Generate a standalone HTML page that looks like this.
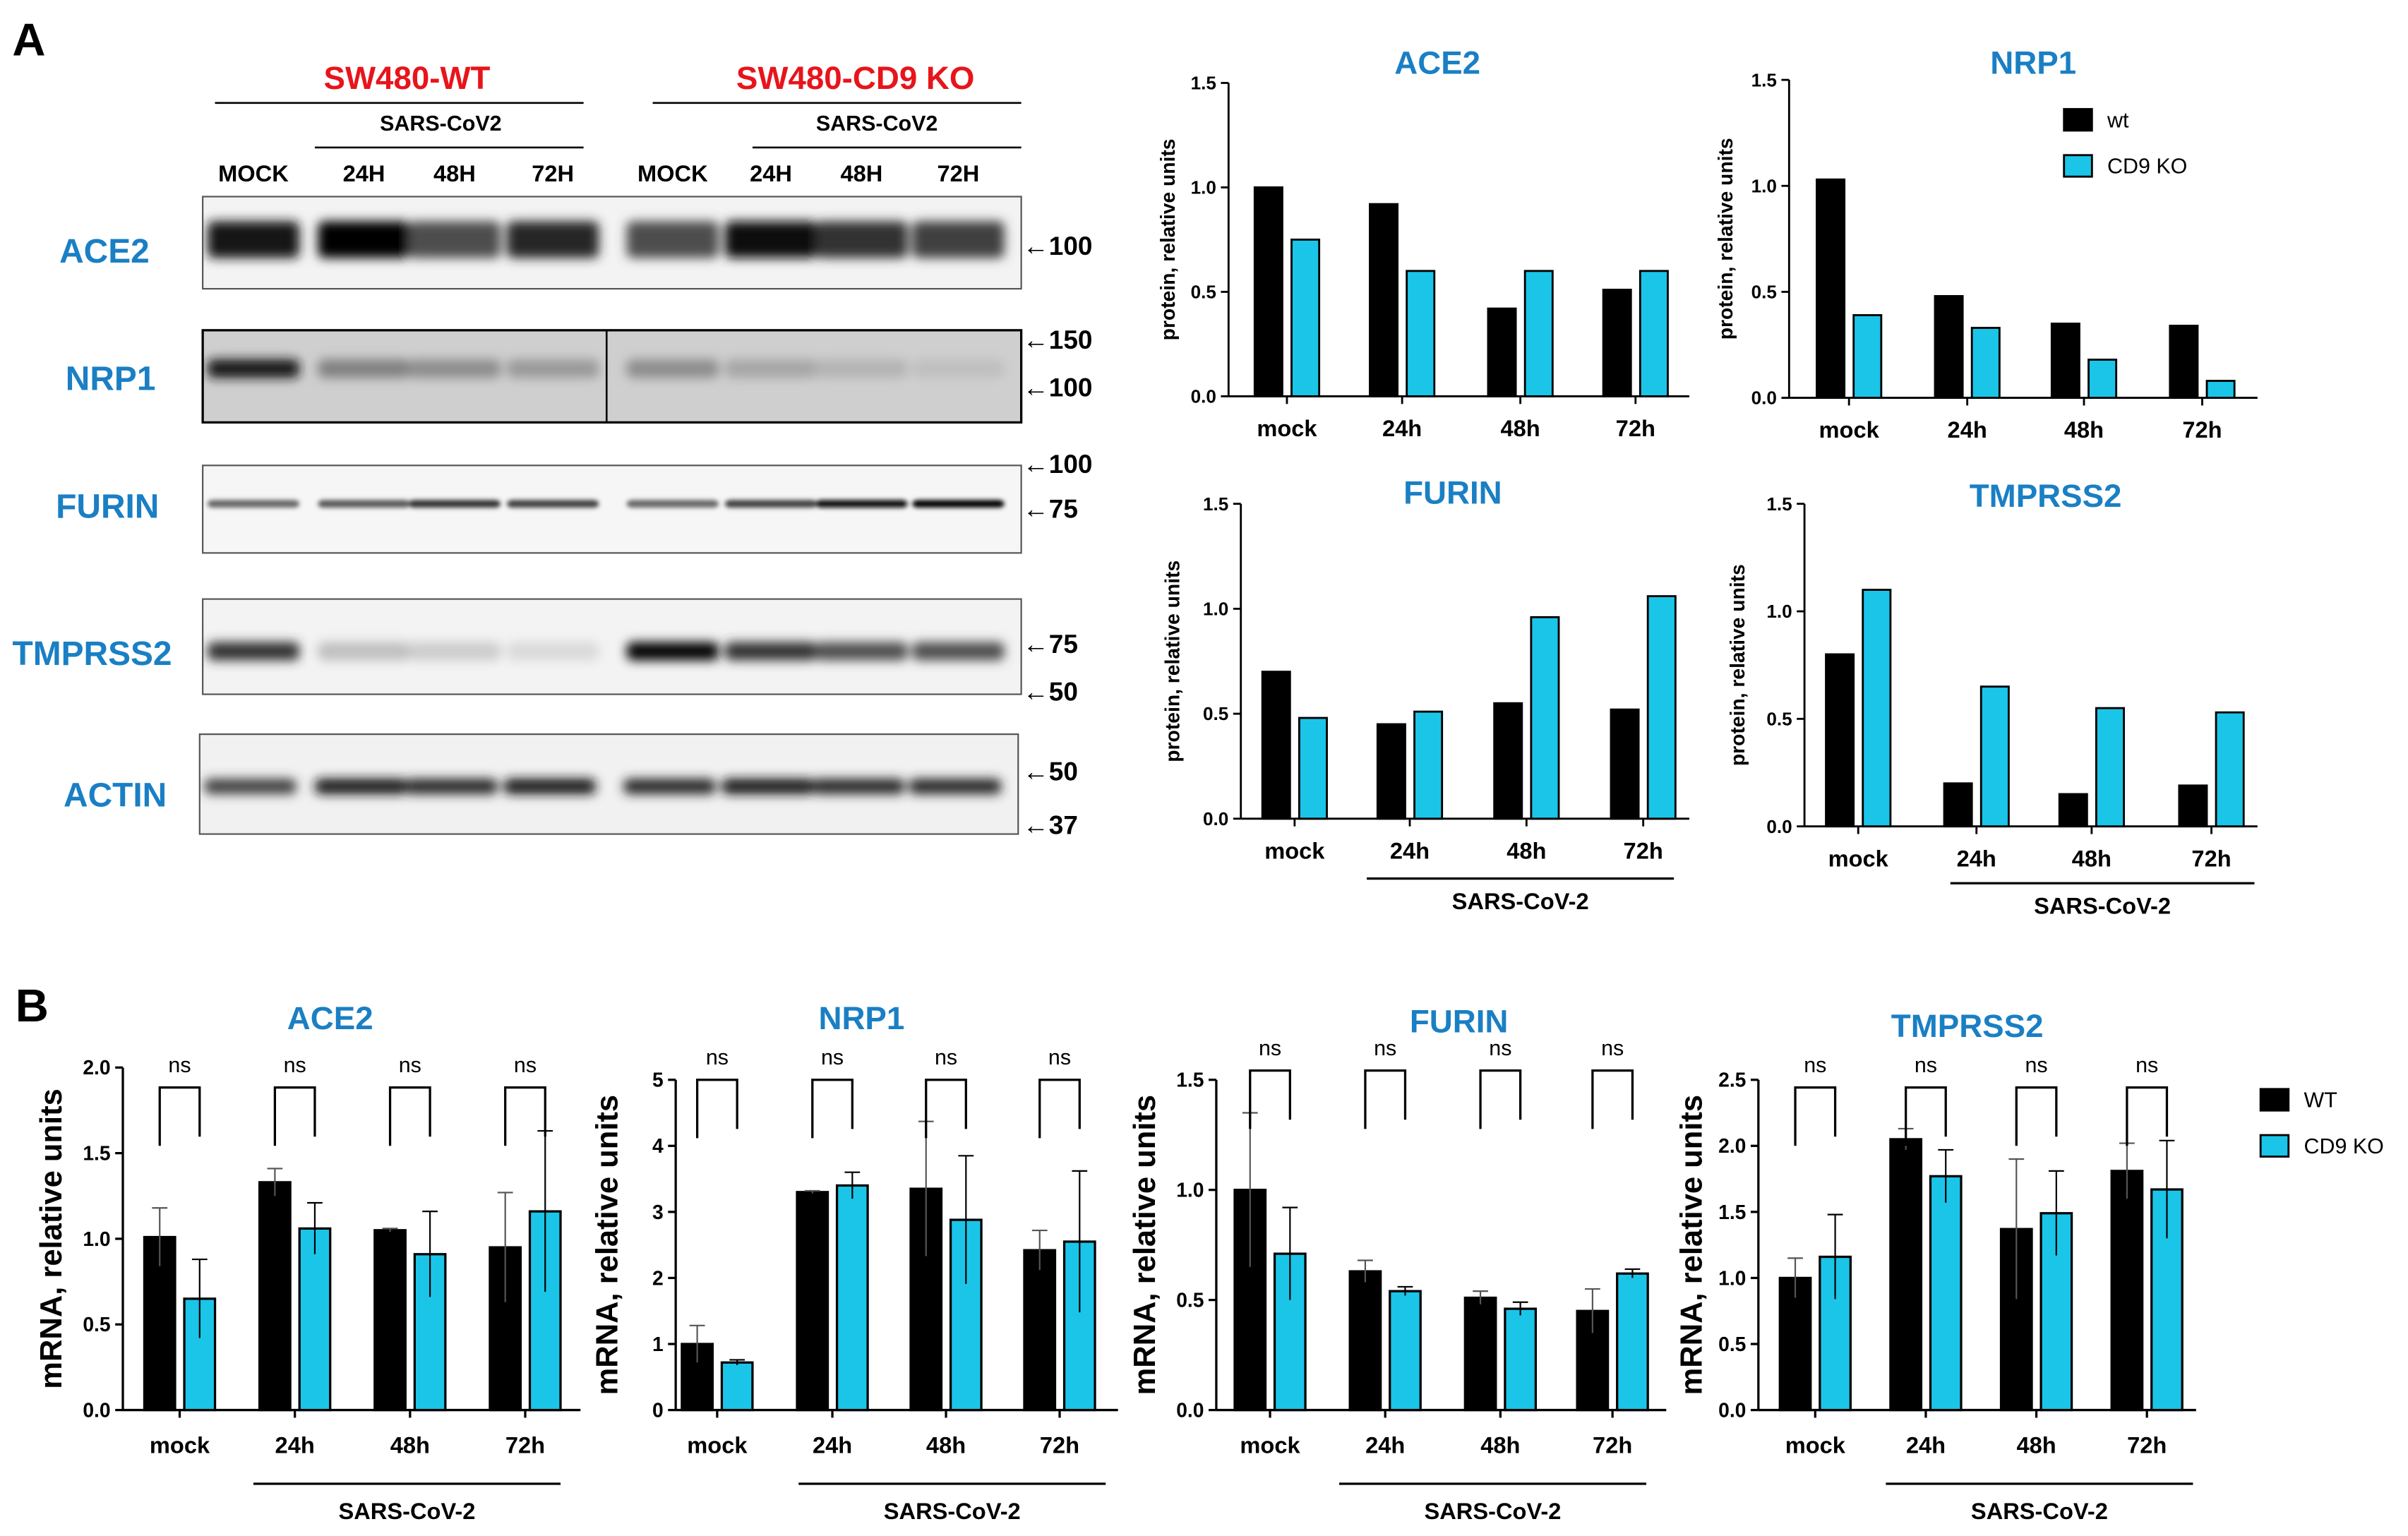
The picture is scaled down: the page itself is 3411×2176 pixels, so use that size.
<!DOCTYPE html>
<html><head><meta charset="utf-8">
<style>
html,body{margin:0;padding:0;background:#fff;}
svg{display:block;}
text{font-family:"Liberation Sans",Arial,sans-serif;}
</style></head>
<body>
<svg id="fig" width="3411" height="2176" viewBox="0 0 1568 1000" preserveAspectRatio="none" xmlns="http://www.w3.org/2000/svg">
<defs>
<filter id="blur" x="-50%" y="-100%" width="200%" height="300%"><feGaussianBlur stdDeviation="3.5"/></filter>
<filter id="blur2" x="-50%" y="-100%" width="200%" height="300%"><feGaussianBlur stdDeviation="1.5"/></filter>
</defs>
<g id="blots"></g>
<g id="charts"></g>
</svg>
<script>
const NS='http://www.w3.org/2000/svg';
const root=document.getElementById('fig');
function el(tag,attrs,parent,txt){const e=document.createElementNS(NS,tag);for(const k in attrs)e.setAttribute(k,attrs[k]);if(txt!==undefined)e.textContent=txt;(parent||root).appendChild(e);return e;}
const BLUE='#1a7fc4', CYAN='#1bc5e8';

// ---------- Panel A data ----------
const aCats=['mock','24h','48h','72h'];
const aceWt=[1.0,0.92,0.42,0.51], aceKo=[0.75,0.6,0.6,0.6];
const nrpWt=[1.03,0.48,0.35,0.34], nrpKo=[0.39,0.33,0.18,0.08];
const furWt=[0.7,0.45,0.55,0.52], furKo=[0.48,0.51,0.96,1.06];
const tmpWt=[0.8,0.2,0.15,0.19], tmpKo=[1.1,0.65,0.55,0.53];
const aTicks=[0,0.5,1.0,1.5];
const aTickLabels=['0.0','0.5','1.0','1.5'];

// ---------- Panel B data ----------
const bCats=['mock','24h','48h','72h'];
const bAceWt=[1.01,1.33,1.05,0.95], bAceWtErr=[0.17,0.08,0.01,0.32];
const bAceKo=[0.65,1.06,0.91,1.16], bAceKoErr=[0.23,0.15,0.25,0.47];
const bNrpWt=[1.0,3.3,3.35,2.42], bNrpWtErr=[0.28,0.02,1.02,0.3];
const bNrpKo=[0.72,3.4,2.88,2.55], bNrpKoErr=[0.04,0.2,0.97,1.07];
const bFurWt=[1.0,0.63,0.51,0.45], bFurWtErr=[0.35,0.05,0.03,0.1];
const bFurKo=[0.71,0.54,0.46,0.62], bFurKoErr=[0.21,0.02,0.03,0.02];
const bTmpWt=[1.0,2.05,1.37,1.81], bTmpWtErr=[0.15,0.08,0.53,0.21];
const bTmpKo=[1.16,1.77,1.49,1.67], bTmpKoErr=[0.32,0.2,0.32,0.37];
const bAceTicks=[0,0.5,1.0,1.5,2.0], bAceLabels=['0.0','0.5','1.0','1.5','2.0'];
const bNrpTicks=[0,1,2,3,4,5], bNrpLabels=['0','1','2','3','4','5'];
const bFurTicks=[0,0.5,1.0,1.5], bFurLabels=['0.0','0.5','1.0','1.5'];
const bTmpTicks=[0,0.5,1.0,1.5,2.0,2.5], bTmpLabels=['0.0','0.5','1.0','1.5','2.0','2.5'];

// ---------- Western blots ----------
const B=document.getElementById('blots');
let t;
t=el('text',{x:8,y:36,'font-size':30,'font-weight':'bold'},B,'A');
t=el('text',{x:265,y:58,'font-size':21,'font-weight':'bold',fill:'#e8141b','text-anchor':'middle'},B,'SW480-WT');
t=el('text',{x:557,y:58,'font-size':21,'font-weight':'bold',fill:'#e8141b','text-anchor':'middle'},B,'SW480-CD9 KO');
el('line',{x1:140,y1:67,x2:380,y2:67,stroke:'#000','stroke-width':1.2},B);
el('line',{x1:425,y1:67,x2:665,y2:67,stroke:'#000','stroke-width':1.2},B);
t=el('text',{x:287,y:85,'font-size':14,'font-weight':'bold','text-anchor':'middle'},B,'SARS-CoV2');
t=el('text',{x:571,y:85,'font-size':14,'font-weight':'bold','text-anchor':'middle'},B,'SARS-CoV2');
el('line',{x1:205,y1:96,x2:380,y2:96,stroke:'#000','stroke-width':1.2},B);
el('line',{x1:490,y1:96,x2:665,y2:96,stroke:'#000','stroke-width':1.2},B);
const lanes=[165,237,296,360,438,502,561,624];
const laneLabels=['MOCK','24H','48H','72H','MOCK','24H','48H','72H'];
lanes.forEach((x,i)=>{t=el('text',{x:x,y:118,'font-size':15,'font-weight':'bold','text-anchor':'middle'},B,laneLabels[i]);});

const blots=[
 {name:'ACE2',lx:68,ly:171,x:132,y:128,w:533,h:60,bg:'#f3f3f3',by:156,bh:24,blur:'blur',ints:[0.9,1,0.7,0.85,0.7,0.97,0.8,0.75]},
 {name:'NRP1',lx:72,ly:254,x:132,y:215,w:533,h:60,bg:'#cfcfcf',by:240,bh:12,blur:'blur',ints:[0.9,0.5,0.45,0.4,0.45,0.35,0.3,0.25]},
 {name:'FURIN',lx:70,ly:337,x:132,y:303,w:533,h:57,bg:'#f6f6f6',by:328,bh:5,blur:'blur2',ints:[0.6,0.65,0.8,0.75,0.6,0.75,0.95,1]},
 {name:'TMPRSS2',lx:60,ly:433,x:132,y:390,w:533,h:62,bg:'#f3f3f3',by:424,bh:12,blur:'blur',ints:[0.8,0.25,0.2,0.15,1,0.8,0.7,0.7]},
 {name:'ACTIN',lx:75,ly:525,x:130,y:478,w:533,h:65,bg:'#f1f1f1',by:512,bh:10,blur:'blur',ints:[0.75,0.9,0.85,0.9,0.85,0.9,0.85,0.85]}
];
blots.forEach(b=>{
 const g=el('g',{},B);
 el('rect',{x:b.x,y:b.y,width:b.w,height:b.h,fill:b.bg},g);
 const cl='c'+b.name;const cp=el('clipPath',{id:cl},g);el('rect',{x:b.x,y:b.y,width:b.w,height:b.h},cp);
 const bg=el('g',{'clip-path':'url(#'+cl+')',filter:'url(#'+b.blur+')'},g);
 b.ints.forEach((v,i)=>{const x=lanes[i]+(b.x-132);const c=Math.round(255*(1-v));
  el('rect',{x:x-30,y:b.by-b.bh/2,width:60,height:b.bh,rx:4,fill:`rgb(${c},${c},${c})`},bg);});
 el('rect',{x:b.x,y:b.y,width:b.w,height:b.h,fill:'none',stroke:b.name==='NRP1'?'#000':'#555','stroke-width':b.name==='NRP1'?1.5:1},g);
 if(b.name==='NRP1')el('line',{x1:395,y1:b.y,x2:395,y2:b.y+b.h,stroke:'#000','stroke-width':1.2},g);
 const tl=el('text',{x:b.lx,y:b.ly,'font-size':22,'font-weight':'bold',fill:BLUE,'text-anchor':'middle'},B,b.name);
 
});
const markers=[['100',160],['150',221],['100',252],['100',302],['75',331],['75',419],['50',450],['50',502],['37',537]];
markers.forEach(m=>{t=el('text',{x:666,y:m[1]+6,'font-size':17,'font-weight':'bold'},B,'\u2190'+m[0]);});

// ---------- chart builder ----------
const C=document.getElementById('charts');
function chart(o){
 const g=el('g',{},C);
 const ymax=o.ticks[o.ticks.length-1];
 const ys=v=>o.y0-(o.y0-o.ytop)*v/ymax;
 el('line',{x1:o.ax,y1:o.ytop,x2:o.ax,y2:o.y0,stroke:'#000','stroke-width':o.lw},g);
 el('line',{x1:o.ax,y1:o.y0,x2:o.xend,y2:o.y0,stroke:'#000','stroke-width':o.lw},g);
 o.ticks.forEach((v,i)=>{el('line',{x1:o.ax-5,y1:ys(v),x2:o.ax,y2:ys(v),stroke:'#000','stroke-width':o.lw},g);
  const tt=el('text',{x:o.ax-8,y:ys(v)+o.tfs*0.35,'font-size':o.tfs,'font-weight':'bold','text-anchor':'end'},g,o.tickLabels[i]);
  });
 o.cats.forEach((c,i)=>{const cx=o.cx[i];
  el('line',{x1:cx,y1:o.y0,x2:cx,y2:o.y0+5,stroke:'#000','stroke-width':o.lw},g);
  const ct=el('text',{x:cx,y:o.y0+o.cfs+o.cgap,'font-size':o.cfs,'font-weight':'bold','text-anchor':'middle'},g,c);
  
  [[o.wt,o.wtErr,'#000',-o.off],[o.ko,o.koErr,CYAN,o.off]].forEach((s,k)=>{
   const v=s[0][i];const bx=cx+s[3]-o.bw/2;
   const r=el('rect',{x:bx,y:ys(v),width:o.bw,height:o.y0-ys(v),fill:s[2],stroke:'#000','stroke-width':o.lw},g);
   
   if(s[1]){const e=s[1][i];const mx=cx+s[3];
    el('line',{x1:mx,y1:ys(v-e),x2:mx,y2:ys(v+e),stroke:k?'#000':'#555','stroke-width':1},g);
    el('line',{x1:mx-5,y1:ys(v+e),x2:mx+5,y2:ys(v+e),stroke:k?'#000':'#555','stroke-width':1},g);}
  });
  if(o.ns){const l=cx-o.off,rr=cx+o.off;
   const p=el('path',{d:`M${l},${o.nsY+38} V${o.nsY} H${rr} V${o.nsY+32}`,fill:'none',stroke:'#000','stroke-width':1.5},g);
   
   const nt=el('text',{x:cx,y:o.nsY-10,'font-size':14,'text-anchor':'middle'},g,'ns');}
 });
 const tt=el('text',{x:o.tx,y:o.ty,'font-size':o.tsz,'font-weight':'bold',fill:BLUE,'text-anchor':'middle'},g,o.title);
 
 const yl=el('text',{x:0,y:0,'font-size':o.ylfs,'font-weight':'bold','text-anchor':'middle',transform:`translate(${o.ylx},${(o.y0+o.ytop)/2}) rotate(-90)`},g,o.ylabel);
 
 if(o.sars){el('line',{x1:o.sars[0],y1:o.sars[2],x2:o.sars[1],y2:o.sars[2],stroke:'#000','stroke-width':1.5},g);
  const st=el('text',{x:(o.sars[0]+o.sars[1])/2,y:o.sars[2]+o.sgap,'font-size':o.cfs,'font-weight':'bold','text-anchor':'middle'},g,'SARS-CoV-2');
  }
}
const aBase={cats:aCats,ticks:aTicks,tickLabels:aTickLabels,lw:1.3,tfs:12,cfs:15,cgap:11,sgap:20,bw:18,off:12,tsz:21,ylfs:13,ylabel:'protein, relative units'};
chart(Object.assign({},aBase,{id:'a-ace2',title:'ACE2',tx:936,ty:48,ax:800,y0:258,ytop:54,xend:1100,cx:[838,913,990,1065],wt:aceWt,ko:aceKo,ylx:765}));
chart(Object.assign({},aBase,{id:'a-nrp1',title:'NRP1',tx:1324,ty:48,ax:1165,y0:259,ytop:52,xend:1470,cx:[1204,1281,1357,1434],wt:nrpWt,ko:nrpKo,ylx:1128}));
chart(Object.assign({},aBase,{id:'a-furin',title:'FURIN',tx:946,ty:328,ax:808,y0:533,ytop:328,xend:1100,cx:[843,918,994,1070],wt:furWt,ko:furKo,ylx:768,sars:[890,1090,572]}));
chart(Object.assign({},aBase,{id:'a-tmprss2',title:'TMPRSS2',tx:1332,ty:330,ax:1175,y0:538,ytop:328,xend:1470,cx:[1210,1287,1362,1440],wt:tmpWt,ko:tmpKo,ylx:1136,sars:[1270,1468,575]}));

const bBase={cats:bCats,lw:1.5,tfs:13,cfs:15,cgap:13,sgap:23,bw:20,off:13,tsz:21,ylfs:20,ylabel:'mRNA, relative units',ns:true,y0:918};
chart(Object.assign({},bBase,{id:'b-ace2',title:'ACE2',tx:215,ty:670,ax:80,ytop:695,xend:378,cx:[117,192,267,342],ticks:bAceTicks,tickLabels:bAceLabels,wt:bAceWt,wtErr:bAceWtErr,ko:bAceKo,koErr:bAceKoErr,ylx:40,nsY:708,sars:[165,365,966]}));
chart(Object.assign({},bBase,{id:'b-nrp1',title:'NRP1',tx:561,ty:670,ax:440,ytop:703,xend:728,cx:[467,542,616,690],ticks:bNrpTicks,tickLabels:bNrpLabels,wt:bNrpWt,wtErr:bNrpWtErr,ko:bNrpKo,koErr:bNrpKoErr,ylx:402,nsY:703,sars:[520,720,966]}));
chart(Object.assign({},bBase,{id:'b-furin',title:'FURIN',tx:950,ty:672,ax:792,ytop:703,xend:1085,cx:[827,902,977,1050],ticks:bFurTicks,tickLabels:bFurLabels,wt:bFurWt,wtErr:bFurWtErr,ko:bFurKo,koErr:bFurKoErr,ylx:752,nsY:697,sars:[872,1072,966]}));
chart(Object.assign({},bBase,{id:'b-tmprss2',title:'TMPRSS2',tx:1281,ty:675,ax:1145,ytop:703,xend:1430,cx:[1182,1254,1326,1398],ticks:bTmpTicks,tickLabels:bTmpLabels,wt:bTmpWt,wtErr:bTmpWtErr,ko:bTmpKo,koErr:bTmpKoErr,ylx:1108,nsY:708,sars:[1228,1428,966]}));

t=el('text',{x:10,y:665,'font-size':30,'font-weight':'bold'},C,'B');
function legend(x,y,labels,fs,sz,gap,name){const g=el('g',{},C);
 labels.forEach((l,i)=>{el('rect',{x:x,y:y+i*gap-sz/2,width:sz*1.3,height:sz,fill:i?CYAN:'#000',stroke:'#000','stroke-width':1.3},g);
  const lt=el('text',{x:x+sz*1.3+10,y:y+i*gap+fs*0.35,'font-size':fs},g,l);});}
legend(1344,78,['wt','CD9 KO'],14,14,30,'legend-a');
legend(1472,716,['WT','CD9 KO'],14,14,30,'legend-b');
</script>
</body></html>
